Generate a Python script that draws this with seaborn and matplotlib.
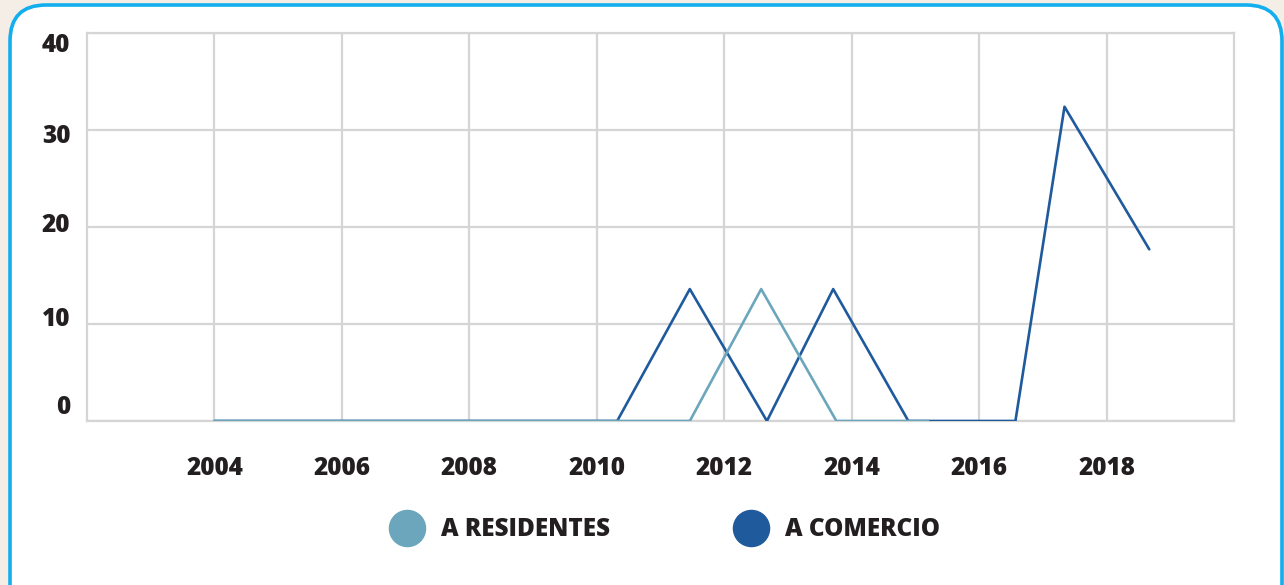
import matplotlib
matplotlib.use("Agg")
import matplotlib.pyplot as plt
import matplotlib.transforms as mtransforms
import seaborn as sns
import pandas as pd
from matplotlib.patches import FancyBboxPatch
from matplotlib.lines import Line2D

# ---- data ----
series_names = ["A RESIDENTES", "A COMERCIO"]
residentes_x = [2004, 2011.46, 2012.58, 2013.76, 2015.20]
residentes_y = [0, 0, 13.6, 0, 0]
comercio_x = [2004, 2010.32, 2011.46, 2012.67, 2013.71, 2014.89, 2016.57, 2017.34, 2018.67]
comercio_y = [0, 0, 13.6, 0, 13.6, 0, 0, 32.4, 17.7]
x_ticks = [2004, 2006, 2008, 2010, 2012, 2014, 2016, 2018]
y_ticks = [0, 10, 20, 30, 40]

colors = {"A RESIDENTES": "#6ba6bc", "A COMERCIO": "#1f5a9c"}

sns.set_theme(style="white")
plt.rcParams["font.family"] = ["Open Sans", "DejaVu Sans"]

df_res = pd.DataFrame({"year": residentes_x, "value": residentes_y, "serie": series_names[0]})
df_com = pd.DataFrame({"year": comercio_x, "value": comercio_y, "serie": series_names[1]})

fig = plt.figure(figsize=(12.84, 5.85), dpi=100)
fig.patch.set_facecolor("#f5eee6")

# rounded white panel with blue border (pixel coordinates, origin bottom-left)
panel = FancyBboxPatch((10, -40), 1272, 620, boxstyle="round,pad=0,rounding_size=36",
                       transform=None, facecolor="white", edgecolor="#12aeee",
                       linewidth=2.6, zorder=-5)
fig.patches.append(panel)

ax = fig.add_axes([87/1284, 1-421/585, (1234-87)/1284, (421-33)/585])
ax.set_zorder(2)
ax.set_facecolor("white")

sns.lineplot(data=df_com, x="year", y="value", color=colors["A COMERCIO"],
             linewidth=1.9, ax=ax, legend=False, zorder=3)
sns.lineplot(data=df_res, x="year", y="value", color=colors["A RESIDENTES"],
             linewidth=1.9, ax=ax, legend=False, zorder=4)

ax.set_xlim(2002, 2020)
ax.set_ylim(0, 40)
ax.set_xticks(x_ticks)
ax.set_yticks(y_ticks)
ax.set_xticklabels([str(t) for t in x_ticks])
ax.set_yticklabels([str(t) for t in y_ticks])
ax.grid(True, color="#d5d5d5", linewidth=1.6)
ax.set_axisbelow(True)
for s in ax.spines.values():
    s.set_color("#d5d5d5")
    s.set_linewidth(1.6)
    s.set_zorder(1)
ax.tick_params(axis="both", length=0, labelsize=17.5, labelcolor="#231f20")
ax.tick_params(axis="x", pad=25)
ax.tick_params(axis="y", pad=12)
for lab in ax.get_xticklabels() + ax.get_yticklabels():
    lab.set_fontweight(800)
ax.set_xlabel("")
ax.set_ylabel("")

# the reference's y labels sit slightly off their gridlines (pixel offsets, up positive)
y_label_shift_px = {0: 16, 10: 8, 20: 4, 30: -4, 40: -9}
for tick, val in zip(ax.yaxis.get_major_ticks(), y_ticks):
    off = mtransforms.ScaledTranslation(0, y_label_shift_px[val] / 100, fig.dpi_scale_trans)
    tick.label1.set_transform(tick.label1.get_transform() + off)

handles = [Line2D([], [], linestyle="none", marker="o", markersize=26,
                  markerfacecolor=colors[n], markeredgecolor=colors[n]) for n in series_names]
leg = fig.legend(handles, series_names, loc="center", bbox_to_anchor=(661/1284, 1-530/585),
                 ncol=2, frameon=False, handletextpad=0.4, columnspacing=4.8,
                 prop={"weight": 800, "size": 17.5})
for t in leg.get_texts():
    t.set_color("#231f20")

fig.savefig("out.png", dpi=100, facecolor=fig.get_facecolor())
